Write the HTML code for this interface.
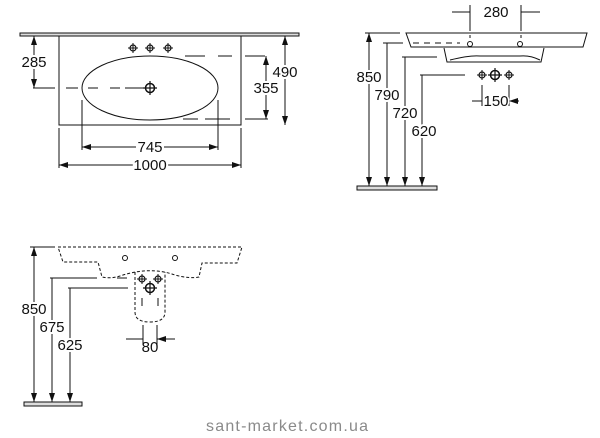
<!DOCTYPE html>
<html><head><style>
html,body{margin:0;padding:0;background:#fff;width:600px;height:438px;overflow:hidden}
svg text{font-family:"Liberation Sans",Arial,sans-serif;font-size:15px;fill:#111}
</style></head><body>
<svg width="600" height="438" viewBox="0 0 600 438" xmlns="http://www.w3.org/2000/svg">
<defs>
<marker id="a" viewBox="0 0 10 10" refX="10" refY="5" markerUnits="userSpaceOnUse" markerWidth="9" markerHeight="6" preserveAspectRatio="none" orient="auto-start-reverse"><path d="M0,0 L10,5 L0,10z" fill="#111" stroke="none"/></marker>
<g id="x"><circle r="3" fill="none" stroke="#111" stroke-width="1.2"/><path d="M-5,0h10M0,-5v10" stroke="#111" stroke-width="1"/></g>
<g id="X"><circle r="4.5" fill="none" stroke="#111" stroke-width="1.5"/><path d="M-7,0h14M0,-7v14" stroke="#111" stroke-width="1.2"/></g>
<path id="d" d="M-3,-9L0,0L3,-9z" fill="#111"/>
</defs>
<g stroke="#111" stroke-width="1" fill="none">
<rect x="20" y="33" width="279" height="3" fill="#ddd"/>
<rect x="59" y="36" width="182" height="89"/>
<ellipse cx="150" cy="88" rx="68" ry="32"/>
<path d="M33,88H55M66,88H78M88,88H98M110,88H120M125,88H145"/>
<path d="M185,56H205M218,56H232M245,56H265M183,119H198M205,119H230M245,119H268"/>
<path d="M82,100V150M218,100V150M59,128V168M241,128V168"/>
<path d="M34,36V88" marker-start="url(#a)" marker-end="url(#a)"/>
<path d="M285,36V125" marker-start="url(#a)" marker-end="url(#a)"/>
<path d="M266,56V119" marker-start="url(#a)" marker-end="url(#a)"/>
<path d="M82,147H136M164,147H218" marker-start="url(#a)" marker-end="url(#a)"/>
<path d="M59,165H133M167,165H241" marker-start="url(#a)" marker-end="url(#a)"/>
<path d="M406,33H587L583,47H411Z"/>
<path d="M444,48L447,62H541L544,48"/>
<path d="M450,60Q470,55 480,56H520Q530,55 540,60"/>
<path d="M470,5V31M521,5V31M482,85V106M509,85V106"/>
<path d="M470,35V41M521,35V41" stroke-dasharray="3,3"/>
<path d="M365,33H400M383,43H403M402,57H437M420,75H465"/>
<path d="M413,43H460" stroke-dasharray="6,5"/>
<path d="M369,33V186M387,43V186M405,57V186M422,75V186" marker-start="url(#a)"/>
<path d="M452,12H470M540,12H521M472,101H482M519,101H509" marker-end="url(#a)"/>
<g stroke-dasharray="3,2">
<path d="M58,247H242L237,263H202L199,277Q190,279 175,275Q150,266 120,276Q110,279 102,277L98,262H63Z"/>
<path d="M135,272V312Q135,322 150,322Q165,322 165,312V272"/>
</g>
<path d="M142,298V306M158,298V306"/>
<path d="M30,247H55M50,278H97M117,278H127M68,288H128"/>
<path d="M34,247V402M52,278V402M70,288V402" marker-start="url(#a)"/>
<path d="M143,325V345M157,325V345"/>
<path d="M126,339H143M175,339H157" marker-end="url(#a)"/>
</g>
<g stroke="none">
<use href="#d" x="369" y="186"/><use href="#d" x="387" y="186"/><use href="#d" x="405" y="186"/><use href="#d" x="422" y="186"/>
<use href="#d" x="34" y="402"/><use href="#d" x="52" y="402"/><use href="#d" x="70" y="402"/>
</g>
<rect x="357" y="186" width="80" height="4" fill="#ddd" stroke="#111"/>
<rect x="24" y="402" width="58" height="4" fill="#ddd" stroke="#111"/>
<circle cx="470" cy="44" r="2.5" fill="none" stroke="#111"/>
<circle cx="520" cy="44" r="2.5" fill="none" stroke="#111"/>
<circle cx="125" cy="258" r="2.5" fill="none" stroke="#111"/>
<circle cx="175" cy="258" r="2.5" fill="none" stroke="#111"/>
<use href="#x" x="133" y="48"/><use href="#x" x="150" y="48"/><use href="#x" x="168" y="48"/>
<use href="#X" x="150" y="88"/>
<use href="#x" x="482" y="75"/><use href="#X" x="495" y="75"/><use href="#x" x="509" y="75"/>
<use href="#x" x="142" y="279"/><use href="#x" x="158" y="279"/><use href="#X" x="150" y="288"/>
<g text-anchor="middle">
<text x="34" y="67" fill="#fff" stroke="#fff" stroke-width="4">285</text><text x="34" y="67">285</text>
<text x="285" y="77" fill="#fff" stroke="#fff" stroke-width="4">490</text><text x="285" y="77">490</text>
<text x="266" y="93" fill="#fff" stroke="#fff" stroke-width="4">355</text><text x="266" y="93">355</text>
<text x="150" y="152" fill="#fff" stroke="#fff" stroke-width="4">745</text><text x="150" y="152">745</text>
<text x="150" y="170" fill="#fff" stroke="#fff" stroke-width="4">1000</text><text x="150" y="170">1000</text>
<text x="496" y="17">280</text>
<text x="369" y="82" fill="#fff" stroke="#fff" stroke-width="4">850</text><text x="369" y="82">850</text>
<text x="387" y="100" fill="#fff" stroke="#fff" stroke-width="4">790</text><text x="387" y="100">790</text>
<text x="405" y="118" fill="#fff" stroke="#fff" stroke-width="4">720</text><text x="405" y="118">720</text>
<text x="424" y="136" fill="#fff" stroke="#fff" stroke-width="4">620</text><text x="424" y="136">620</text>
<text x="496" y="106" fill="#fff" stroke="#fff" stroke-width="3">150</text><text x="496" y="106">150</text>
<text x="34" y="314" fill="#fff" stroke="#fff" stroke-width="4">850</text><text x="34" y="314">850</text>
<text x="52" y="332" fill="#fff" stroke="#fff" stroke-width="4">675</text><text x="52" y="332">675</text>
<text x="70" y="350" fill="#fff" stroke="#fff" stroke-width="4">625</text><text x="70" y="350">625</text>
<text x="150" y="352">80</text>
</g>
<text x="206" y="431" style="font-size:16px;fill:#8a8a8a" textLength="162">sant-market.com.ua</text>
</svg>
</body></html>
